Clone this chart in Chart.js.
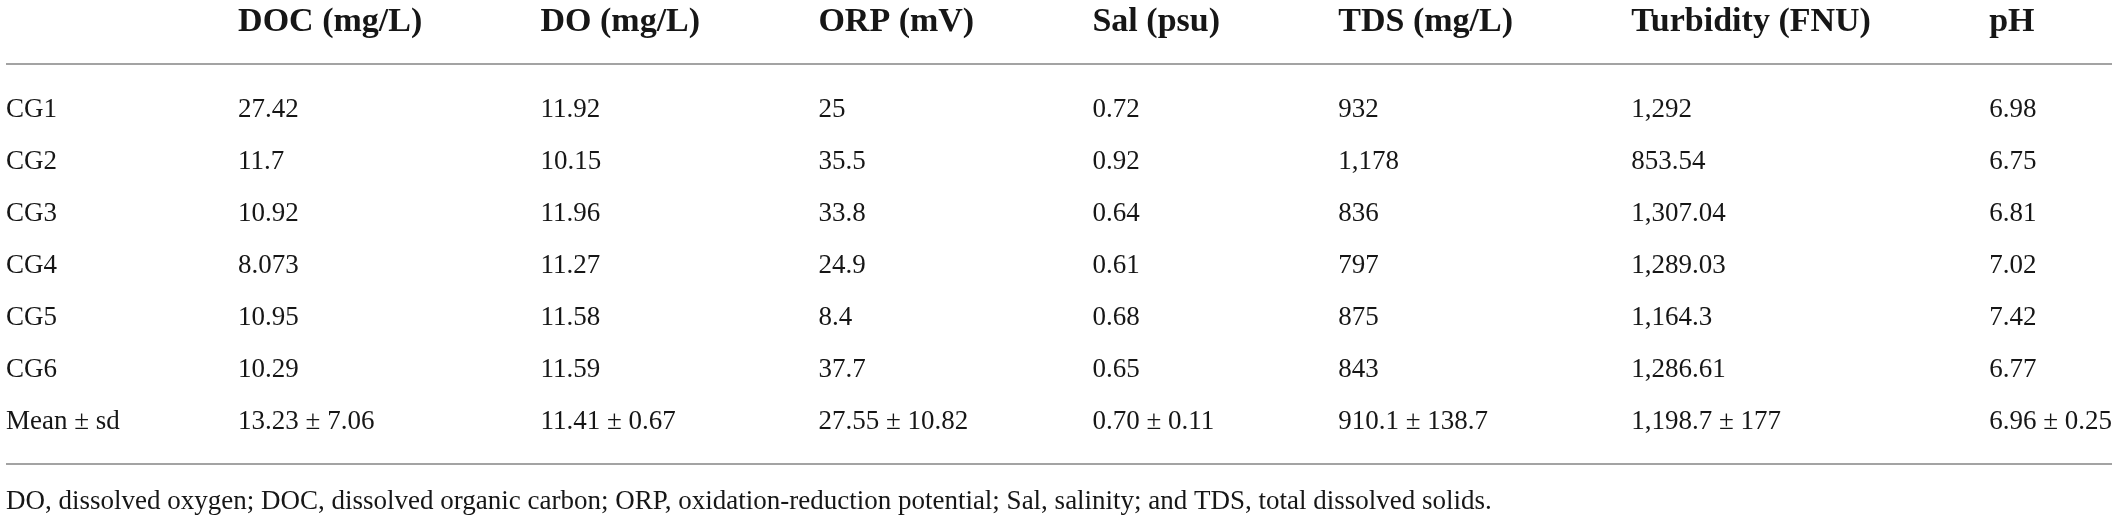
<!DOCTYPE html>
<html>
<head>
<meta charset="utf-8">
<title>Water quality table</title>
<script src="https://cdn.jsdelivr.net/npm/chart.js@4.4.1/dist/chart.umd.min.js"></script>
<style>
  html, body { margin: 0; padding: 0; background: #fff; }
  #wrap { width: 2117px; height: 518px; }
</style>
</head>
<body>
<div id="wrap"><canvas id="tabel" width="2117" height="518"></canvas></div>
<script>
// ---- data -------------------------------------------------------------
var columns   = ['DOC (mg/L)', 'DO (mg/L)', 'ORP (mV)', 'Sal (psu)', 'TDS (mg/L)', 'Turbidity (FNU)', 'pH'];
var sites     = ['CG1', 'CG2', 'CG3', 'CG4', 'CG5', 'CG6', 'Mean \u00b1 sd'];
var doc       = ['27.42', '11.7', '10.92', '8.073', '10.95', '10.29', '13.23 \u00b1 7.06'];
var dOxy      = ['11.92', '10.15', '11.96', '11.27', '11.58', '11.59', '11.41 \u00b1 0.67'];
var orp       = ['25', '35.5', '33.8', '24.9', '8.4', '37.7', '27.55 \u00b1 10.82'];
var sal       = ['0.72', '0.92', '0.64', '0.61', '0.68', '0.65', '0.70 \u00b1 0.11'];
var tds       = ['932', '1,178', '836', '797', '875', '843', '910.1 \u00b1 138.7'];
var turbidity = ['1,292', '853.54', '1,307.04', '1,289.03', '1,164.3', '1,286.61', '1,198.7 \u00b1 177'];
var ph        = ['6.98', '6.75', '6.81', '7.02', '7.42', '6.77', '6.96 \u00b1 0.25'];
var footnote  = 'DO, dissolved oxygen; DOC, dissolved organic carbon; ORP, oxidation-reduction potential; Sal, salinity; and TDS, total dissolved solids.';

// ---- style ------------------------------------------------------------
var fontHead = 'bold 34px "Liberation Serif", "DejaVu Serif", serif';
var fontBody = '27px "Liberation Serif", "DejaVu Serif", serif';
var warnaTeks = '#161616';
var warnaGaris = '#a3a3a3';

// row positions on the y scale (data rows are 0..6)
var rowHeader = -1.69;
var rowLineTop = -0.885;
var rowLineBottom = 6.81;
var rowFootnote = 7.54;
var tableLeft = 6, tableRight = 2112;

// ---- column layout from measured text widths ---------------------------
var body = [sites, doc, dOxy, orp, sal, tds, turbidity, ph];
var heads = [''].concat(columns);
var ukur = document.createElement('canvas').getContext('2d');
var lebar = body.map(function (col, i) {
    ukur.font = fontHead;
    var w = ukur.measureText(heads[i]).width;
    ukur.font = fontBody;
    col.forEach(function (t) { w = Math.max(w, ukur.measureText(t).width); });
    return w;
});
var totalLebar = lebar.reduce(function (a, b) { return a + b; }, 0);
var jarak = (tableRight - tableLeft - totalLebar) / (lebar.length - 1);
var colX = [];
var pos = tableLeft;
lebar.forEach(function (w) { colX.push(pos); pos += w + jarak; });

// one dataset per column; each cell is a point placed by the scales
var datasets = body.map(function (col, ci) {
    var pts = [{ x: colX[ci], y: rowHeader, text: heads[ci], head: true }];
    col.forEach(function (t, ri) { pts.push({ x: colX[ci], y: ri, text: t }); });
    return { data: pts, pointRadius: 0, pointHoverRadius: 0, showLine: false };
});

// ---- draws cell text, rules and footnote -------------------------------
var tablePlugin = {
    id: 'tablePlugin',
    afterDatasetsDraw: function (chart) {
        var ctx = chart.ctx;
        var sx = chart.scales.x, sy = chart.scales.y;
        ctx.save();
        ctx.textBaseline = 'middle';
        ctx.textAlign = 'left';
        ctx.fillStyle = warnaTeks;
        chart.data.datasets.forEach(function (ds, di) {
            chart.getDatasetMeta(di).data.forEach(function (el, i) {
                var cell = ds.data[i];
                ctx.font = cell.head ? fontHead : fontBody;
                ctx.fillText(cell.text, el.x, el.y);
            });
        });

        ctx.strokeStyle = warnaGaris;
        ctx.lineWidth = 2;
        [rowLineTop, rowLineBottom].forEach(function (r) {
            var yy = Math.round(sy.getPixelForValue(r));
            ctx.beginPath();
            ctx.moveTo(sx.getPixelForValue(tableLeft), yy);
            ctx.lineTo(sx.getPixelForValue(tableRight), yy);
            ctx.stroke();
        });

        ctx.font = fontBody;
        ctx.fillText(footnote, sx.getPixelForValue(tableLeft), sy.getPixelForValue(rowFootnote));
        ctx.restore();
    }
};

new Chart(document.getElementById('tabel'), {
    type: 'scatter',
    data: { datasets: datasets },
    options: {
        responsive: false,
        animation: false,
        devicePixelRatio: 1,
        events: [],
        layout: { padding: 0 },
        plugins: { legend: { display: false }, tooltip: { enabled: false } },
        scales: {
            x: { type: 'linear', display: false, min: 0, max: 2117 },
            y: { type: 'linear', display: false, reverse: true, min: -2.115, max: 7.846 }
        }
    },
    plugins: [tablePlugin]
});
</script>
</body>
</html>
